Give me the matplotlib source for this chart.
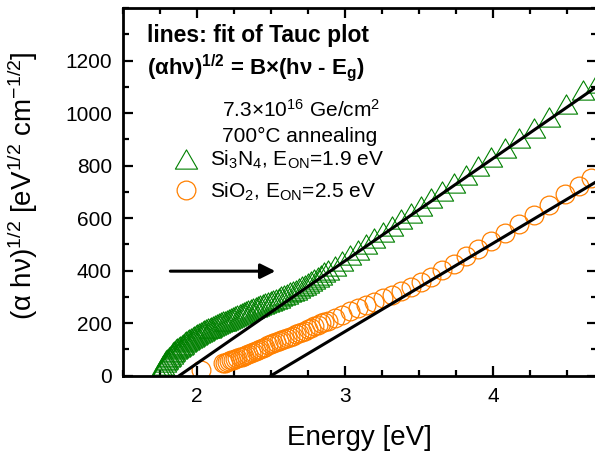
import numpy as np
import matplotlib
matplotlib.use("Agg")
import matplotlib.pyplot as plt
from matplotlib.path import Path

plt.rcParams['font.family'] = ['Liberation Sans', 'DejaVu Sans']
plt.rcParams['mathtext.default'] = 'regular'

# ---- data ----
si3n4_E = [1.746, 1.755, 1.764, 1.773, 1.782, 1.791, 1.800, 1.809, 1.818, 1.828,
           1.837, 1.847, 1.856, 1.866, 1.876, 1.886, 1.896, 1.906, 1.917, 1.927,
           1.938, 1.948, 1.959, 1.970, 1.981, 1.992, 2.003, 2.015, 2.026, 2.038,
           2.050, 2.062, 2.074, 2.086, 2.098, 2.111, 2.123, 2.136, 2.149, 2.162,
           2.175, 2.189, 2.202, 2.216, 2.230, 2.244, 2.259, 2.273, 2.288, 2.303,
           2.318, 2.333, 2.348, 2.364, 2.380, 2.396, 2.412, 2.429, 2.446, 2.463,
           2.480, 2.497, 2.515, 2.533, 2.551, 2.570, 2.589, 2.608, 2.627, 2.647,
           2.667, 2.687, 2.707, 2.728, 2.749, 2.771, 2.793, 2.815, 2.838, 2.860,
           2.884, 2.931, 2.981, 3.032, 3.085, 3.139, 3.196, 3.255, 3.316, 3.379,
           3.444, 3.513, 3.584, 3.658, 3.735, 3.815, 3.899, 3.987, 4.079, 4.175,
           4.276, 4.382, 4.493, 4.610, 4.700]
si3n4_y = [5, 17, 28, 41, 52, 59, 65, 71, 76, 83,
           89, 95, 100, 105, 109, 113, 117, 122, 127, 131,
           135, 139, 143, 147, 150, 154, 158, 162, 165, 169,
           173, 176, 180, 183, 186, 190, 193, 197, 200, 203,
           207, 210, 213, 216, 220, 223, 227, 231, 234, 238,
           241, 245, 249, 253, 257, 261, 264, 268, 272, 276,
           280, 285, 289, 293, 297, 302, 307, 312, 317, 322,
           328, 334, 340, 346, 353, 360, 368, 376, 385, 393,
           402, 418, 435, 459, 480, 501, 523, 546, 570, 595,
           620, 647, 675, 703, 733, 765, 797, 832, 868, 905,
           944, 986, 1033, 1088, 1115]

sio2_E = [2.030, 2.175, 2.189, 2.202, 2.216, 2.230, 2.244, 2.259, 2.273, 2.288,
          2.303, 2.318, 2.333, 2.348, 2.364, 2.380, 2.396, 2.412, 2.429, 2.446,
          2.463, 2.480, 2.497, 2.515, 2.533, 2.551, 2.570, 2.589, 2.608, 2.627,
          2.647, 2.667, 2.687, 2.707, 2.728, 2.749, 2.771, 2.793, 2.815, 2.838,
          2.860, 2.884, 2.931, 2.981, 3.032, 3.085, 3.139, 3.196, 3.255, 3.316,
          3.379, 3.444, 3.513, 3.584, 3.658, 3.735, 3.815, 3.899, 3.987, 4.079,
          4.175, 4.276, 4.382, 4.490, 4.580, 4.665]
sio2_y = [22, 47, 49, 52, 55, 58, 61, 64, 67, 70,
          73, 76, 79, 83, 87, 91, 95, 99, 103, 107,
          111, 115, 119, 123, 127, 131, 136, 140, 144, 148,
          152, 157, 161, 166, 171, 177, 183, 189, 194, 199,
          205, 210, 221, 233, 246, 258, 270, 282, 294, 307,
          322, 338, 355, 377, 401, 427, 454, 482, 512, 543,
          576, 612, 650, 690, 722, 752]

# Tauc fit lines (end points)
fit_si3n4_E = [1.88, 4.70]
fit_si3n4_y = [0, 1100]
fit_sio2_E = [2.50, 4.70]
fit_sio2_y = [0, 739]

arrow_x = [1.82, 2.53]
arrow_y = [398, 398]

xticks = [2, 3, 4]
yticks = [0, 200, 400, 600, 800, 1000, 1200]

green = '#008000'
orange = '#ff8000'

tri = Path([(-1, -0.866), (1, -0.866), (0, 0.866), (-1, -0.866)],
           [Path.MOVETO, Path.LINETO, Path.LINETO, Path.CLOSEPOLY])

fig = plt.figure(figsize=(5.95, 4.53), dpi=100)
ax = fig.add_axes([123/595, (453-375.7)/453, (596.5-123)/595, (375.7-8)/453])

ax.plot(fit_si3n4_E, fit_si3n4_y, color='black', lw=2.2, zorder=3)
ax.plot(fit_sio2_E, fit_sio2_y, color='black', lw=2.2, zorder=3)
h1, = ax.plot(si3n4_E, si3n4_y, ls='none', marker=tri, ms=16, mfc='none',
              mec=green, mew=0.8, zorder=2,
              label='Si$_3$N$_4$, E$_{ON}$=1.9 eV')
h2, = ax.plot(sio2_E, sio2_y, ls='none', marker='o', ms=13.5, mfc='none',
              mec=orange, mew=0.9, zorder=2,
              label='SiO$_2$, E$_{ON}$=2.5 eV')

ax.annotate('', xy=(arrow_x[1], arrow_y[1]), xytext=(arrow_x[0], arrow_y[0]),
            arrowprops=dict(arrowstyle='-|>,head_length=0.9,head_width=0.45',
                            color='black', lw=2.2, shrinkA=0, shrinkB=0))

ax.set_xlim(1.5, 4.7)
ax.set_ylim(0, 1400)
ax.set_xticks(xticks)
ax.set_xticks(np.arange(1.5, 4.71, 0.25), minor=True)
ax.set_yticks(yticks)
ax.set_yticks(np.arange(0, 1401, 100), minor=True)
ax.tick_params(which='both', direction='in', top=True, right=True, width=1.6)
ax.tick_params(which='major', length=7, labelsize=15, pad=8)
ax.tick_params(which='minor', length=4)
for s in ax.spines.values():
    s.set_linewidth(2)

ax.set_xlabel('Energy [eV]', fontsize=20)
ax.set_ylabel(r'($\alpha$ h$\nu$)$^{1/2}$ [eV$^{1/2}$ cm$^{-1/2}$]', fontsize=20)
ax.yaxis.set_label_coords(-0.175, 0.516)
ax.xaxis.set_label_coords(0.5, -0.135)

fig.text(147/595, 1-41.7/453, 'lines: fit of Tauc plot', fontsize=16.5,
         fontweight='bold', va='baseline', ha='left')
fig.text(147/595, 1-75/453, r'($\alpha$h$\nu$)$^{1/2}$ = B×(h$\nu$ - E$_g$)',
         fontsize=16, fontweight='bold', va='baseline', ha='left')
fig.text(222/595, 1-116.7/453, r'7.3×10$^{16}$ Ge/cm$^2$', fontsize=15,
         va='baseline', ha='left')
fig.text(222/595, 1-141.7/453, '700°C annealing', fontsize=15,
         va='baseline', ha='left')

ax.legend(handles=[h1, h2], loc='center left',
          bbox_to_anchor=((171.5-123)/473.5, (375.7-176)/367.7),
          frameon=False, fontsize=15, handlelength=1.4, handletextpad=0.45,
          borderpad=0, borderaxespad=0, labelspacing=0.45)

fig.savefig('out.png', dpi=100)
